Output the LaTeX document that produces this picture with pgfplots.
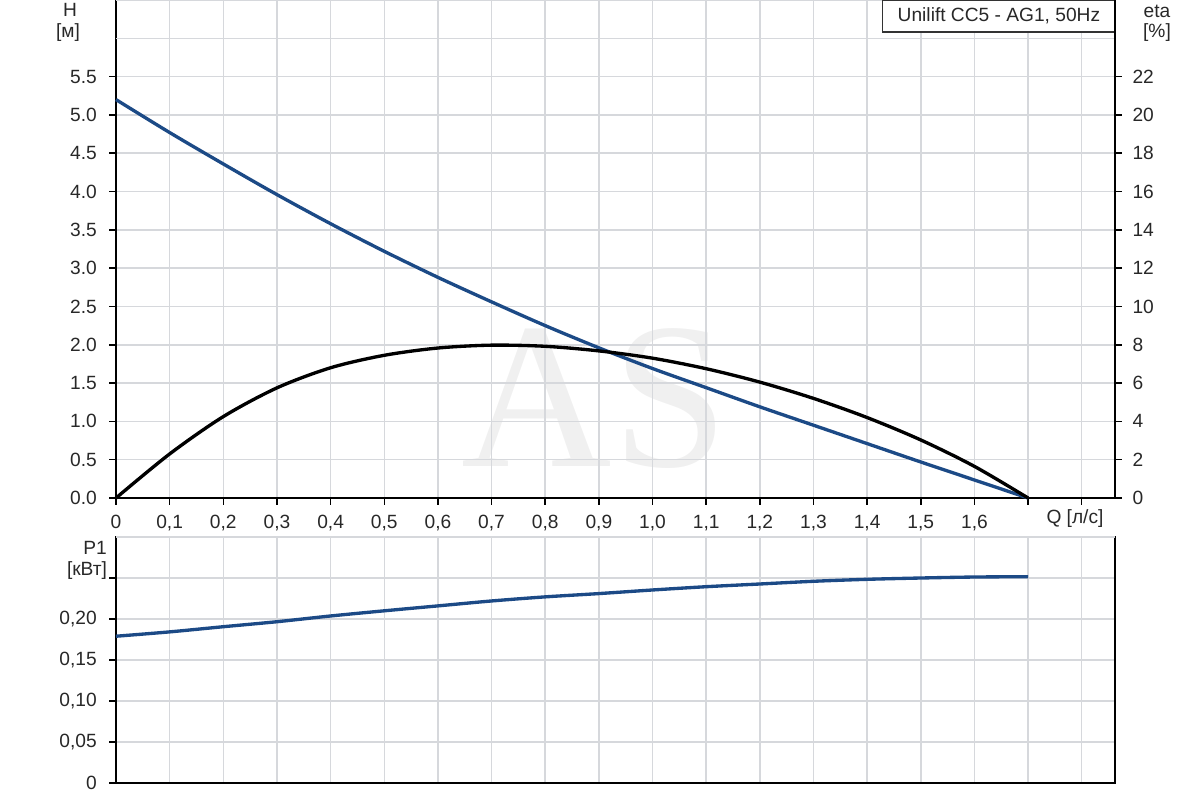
\documentclass[border=0pt]{standalone}
\usepackage{fontspec}
\setmainfont{Liberation Sans}
\newfontfamily\wmfont{Liberation Serif}
\usepackage{pgfplots}
\pgfplotsset{compat=1.18}

\definecolor{curveblue}{RGB}{28,74,134}
\definecolor{gridgray}{RGB}{214,216,220}
\definecolor{lbl}{RGB}{40,40,40}

\pgfplotsset{
  pump/.style={
    scale only axis,
    width=599.4pt,
    xmin=0, xmax=1.862,
    axis line style={black, line width=1.1pt},
    grid=major,
    major grid style={gridgray, line width=0.9pt},
    tick style={black, line width=0.9pt},
    major tick length=4pt,
    tick align=outside,
    tick label style={font=\fontsize{11.5}{13}\selectfont, text=lbl},
    /pgf/number format/assume math mode=true,
    xtick={0,0.1,...,1.85},
    clip=false,
  }
}

\begin{document}
\begin{tikzpicture}
\useasboundingbox (0,0) rectangle (720pt,480pt);

% watermark
\node[text=black!6, font=\wmfont\fontsize{125}{125}\selectfont] at (357pt,241pt) {AS};

% ---------- H (left) ----------
\begin{axis}[pump,
    at={(69.6pt,181.2pt)}, anchor=south west,
    height=298.8pt,
    ymin=0, ymax=6.5,
    axis y line*=left,
    axis x line*=bottom,
    ytick={0,0.5,...,5.6},
    yticklabels={0.0,0.5,1.0,1.5,2.0,2.5,3.0,3.5,4.0,4.5,5.0,5.5},
    extra y ticks={6,6.5},
    extra y tick labels={},
    extra y tick style={major tick length=0pt, grid=major},
    xticklabels={0,{0,1},{0,2},{0,3},{0,4},{0,5},{0,6},{0,7},{0,8},{0,9},{1,0},{1,1},{1,2},{1,3},{1,4},{1,5},{1,6},{},{}},
    xticklabel style={yshift=-3pt},
    yticklabel style={xshift=-4pt},
  ]
  \addplot[curveblue, line width=2pt, smooth] coordinates {
    (0,5.20) (0.1,4.77) (0.2,4.36) (0.3,3.96) (0.4,3.58) (0.5,3.22)
    (0.6,2.88) (0.7,2.56) (0.8,2.25) (0.9,1.96) (1.0,1.69) (1.1,1.44)
    (1.2,1.19) (1.3,0.95) (1.4,0.71) (1.5,0.47) (1.6,0.235) (1.7,0.0)
  };
  \draw[black!80, line width=0.8pt, fill=white]
    (rel axis cs:0.7675,1) rectangle (rel axis cs:1,0.9357);
  \node at (rel axis cs:0.8838,0.9679) {\fontsize{11.5}{13}\selectfont\color{lbl}Unilift CC5 - AG1, 50Hz};
\end{axis}

% ---------- eta (right) ----------
\begin{axis}[pump,
    at={(69.6pt,181.2pt)}, anchor=south west,
    height=298.8pt,
    ymin=0, ymax=26,
    axis y line*=right,
    axis x line=none,
    grid=none,
    ytick={0,2,...,22},
    yticklabels={0,2,4,6,8,10,12,14,16,18,20,22},
    yticklabel style={xshift=3pt},
  ]
  \addplot[black, line width=2pt, smooth] coordinates {
    (0,0) (0.1,2.30) (0.2,4.25) (0.3,5.75) (0.4,6.80) (0.5,7.45)
    (0.6,7.83) (0.7,7.98) (0.8,7.92) (0.9,7.68) (1.0,7.30) (1.1,6.75)
    (1.2,6.05) (1.3,5.20) (1.4,4.20) (1.5,3.03) (1.6,1.65) (1.7,0)
  };
\end{axis}

% ---------- P1 ----------
\begin{axis}[pump,
    at={(69.6pt,10.2pt)}, anchor=south west,
    height=147.6pt,
    ymin=0, ymax=0.30,
    ytick pos=left,
    ytick={0,0.05,...,0.26},
    yticklabels={0,{0,05},{0,10},{0,15},{0,20},{}},
    extra y ticks={0.30},
    extra y tick labels={},
    extra y tick style={major tick length=0pt},
    xticklabels={},
    x tick style={draw=none},
    yticklabel style={xshift=-4pt},
  ]
  \addplot[curveblue, line width=2pt, smooth] coordinates {
    (0,0.179) (0.1,0.1843) (0.2,0.1906) (0.3,0.1967) (0.4,0.2037) (0.5,0.2100)
    (0.6,0.2160) (0.7,0.2220) (0.8,0.2270) (0.9,0.2310) (1.0,0.2354) (1.1,0.2394)
    (1.2,0.2427) (1.3,0.2460) (1.4,0.2484) (1.5,0.2500) (1.6,0.2512) (1.7,0.2516)
  };
\end{axis}

% axis titles
\begingroup
\fontsize{11.5}{13}\selectfont
\node[text=lbl] at (42pt,474pt) {H};
\node[text=lbl] at (40.8pt,460.2pt) {[м]};
\node[text=lbl] at (694.2pt,473pt) {eta};
\node[text=lbl] at (694.2pt,460.2pt) {[\%]};
\node[text=lbl] at (645pt,168.6pt) {Q [л/с]};
\node[text=lbl] at (57pt,151.2pt) {P1};
\node[text=lbl] at (52.2pt,137.4pt) {[кВт]};
\endgroup
\end{tikzpicture}
\end{document}
